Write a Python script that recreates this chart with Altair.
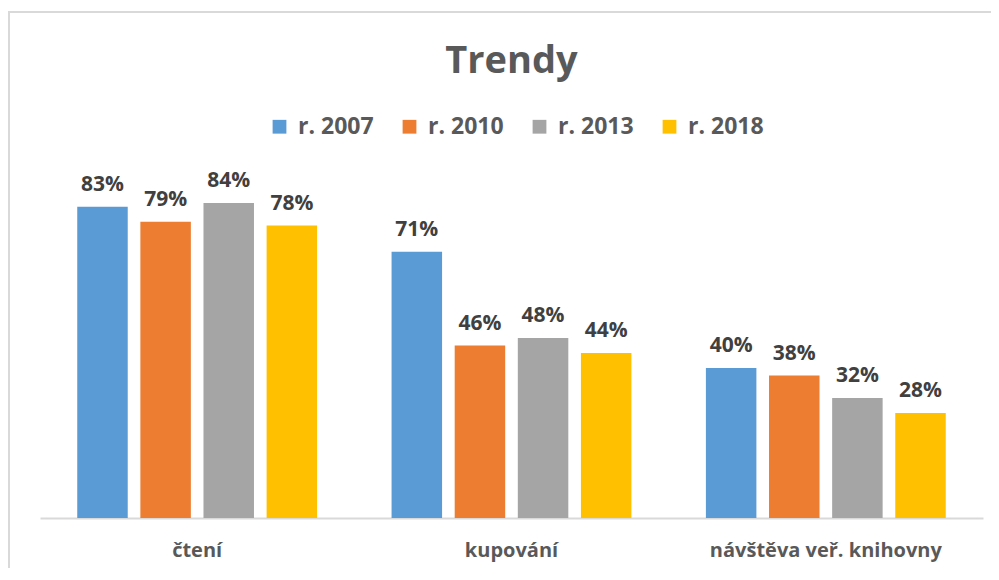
import altair as alt
import pandas as pd

chart_title = "Trendy"
categories = ["čtení", "kupování", "návštěva veř. knihovny"]
series = ["r. 2007", "r. 2010", "r. 2013", "r. 2018"]
values = {
    "r. 2007": [83, 71, 40],
    "r. 2010": [79, 46, 38],
    "r. 2013": [84, 48, 32],
    "r. 2018": [78, 44, 28],
}
colors = ["#5B9BD5", "#ED7D31", "#A5A5A5", "#FFC000"]

rows = []
for s in series:
    for c, v in zip(categories, values[s]):
        rows.append({"cat": c, "series": s, "value": v, "label": f"{v}%"})
df = pd.DataFrame(rows)

FONT = "Open Sans"
TXT = "#595959"

x = alt.X("cat:N", sort=categories, scale=alt.Scale(paddingInner=0, paddingOuter=0),
          axis=alt.Axis(title=None, labelAngle=0, ticks=False, domainColor="#D9D9D9",
                        domainWidth=2, labelFont=FONT, labelFontSize=20,
                        labelFontWeight="bold", labelColor=TXT, labelPadding=22,
                        labelLimit=400))
xo = alt.XOffset("series:N", sort=series,
                 scale=alt.Scale(paddingInner=0.2, paddingOuter=0.59))
y = alt.Y("value:Q", scale=alt.Scale(domain=[0, 100]), axis=None)

bars = alt.Chart(df).mark_bar().encode(
    x=x, xOffset=xo, y=y,
    color=alt.Color("series:N", sort=series,
                    scale=alt.Scale(domain=series, range=colors),
                    legend=alt.Legend(title=None, orient="none", direction="horizontal",
                                      legendX=228, legendY=-28, symbolType="square",
                                      symbolSize=190, symbolStrokeWidth=0,
                                      labelFont=FONT, labelFontSize=23,
                                      labelFontWeight="bold", labelColor=TXT,
                                      columnPadding=24, labelOffset=7, padding=0)),
)

labels = alt.Chart(df).mark_text(
    font=FONT, fontSize=21, fontWeight="bold", color="#404040",
    baseline="alphabetic", dy=-16
).encode(x=x, xOffset=xo, y=y, text="label:N")

frame = alt.Chart(df).mark_rect(fill=None, stroke="#D9D9D9", strokeWidth=1.5).encode(
    x=alt.value(-31), x2=alt.value(975), y=alt.value(-131), y2=alt.value(460)
)

title = alt.Chart(pd.DataFrame({"t": [chart_title]})).mark_text(
    font=FONT, fontSize=38, fontWeight="bold", color=TXT,
    align="center", baseline="alphabetic"
).encode(x=alt.value(471.5), y=alt.value(-70), text="t:N")

chart = alt.layer(frame, bars, labels, title).properties(
    width=943, height=375,
    padding={"left": 32, "top": 135, "right": 8, "bottom": 50},
    autosize=alt.AutoSizeParams(type="none"),
).configure_view(stroke=None)

chart.save("out.html", embed_options={"renderer": "svg", "actions": False})
